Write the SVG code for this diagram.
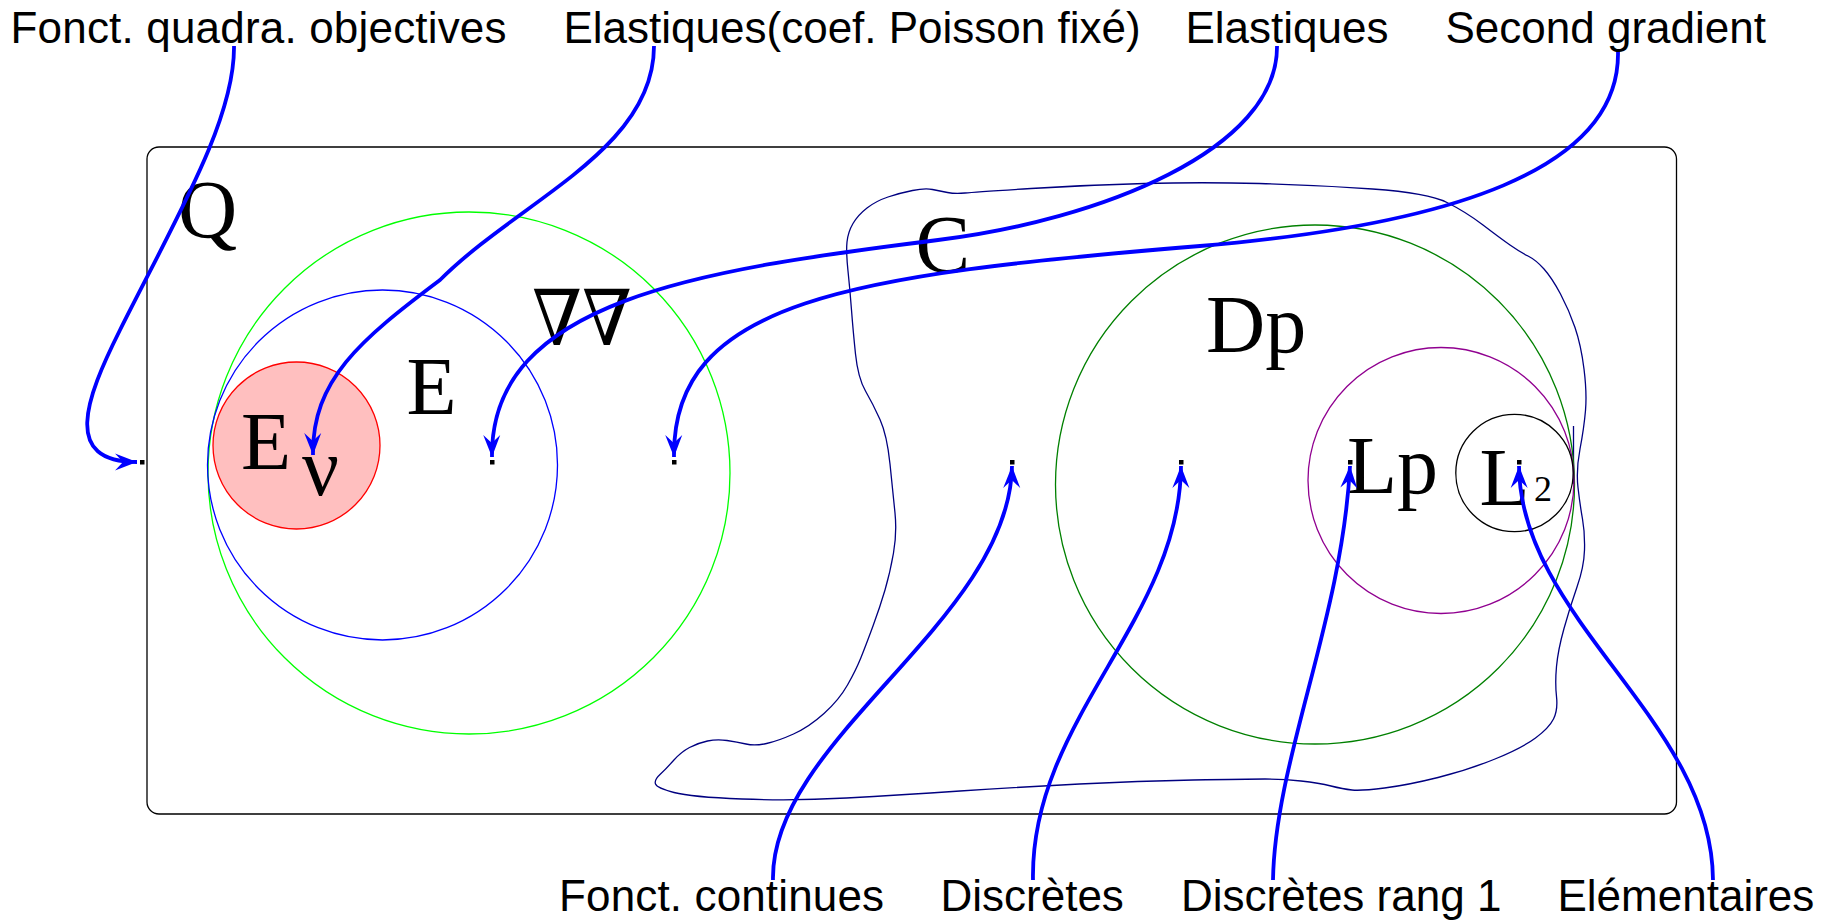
<svg xmlns="http://www.w3.org/2000/svg" width="1838" height="922" viewBox="0 0 1838 922">
  <style>
    .lbl { font-family: "Liberation Sans", Arial, Helvetica, sans-serif; font-size: 44px; fill: #000; }
    .sym { font-family: "Liberation Serif", "Times New Roman", serif; font-size: 82px; fill: #000; }
    .thin { fill: none; stroke-width: 1.3; }
    .arrow { fill: none; stroke: #0000ff; stroke-width: 3.8; marker-end: url(#head); }
    .dot { fill: #000; }
  </style>
  <defs>
    <marker id="head" markerUnits="userSpaceOnUse" markerWidth="26" markerHeight="22" viewBox="-24 -11 26 22" refX="0" refY="0" orient="auto">
      <path d="M0,0 L-22,-8.5 L-14,0 L-22,8.5 Z" fill="#0000ff"/>
    </marker>
  </defs>

  <rect width="1838" height="922" fill="#ffffff"/>

  <!-- outer frame: Q -->
  <g id="node-Q">
    <rect x="147" y="147" width="1529.5" height="667" rx="12" ry="12" fill="none" stroke="#000" stroke-width="1.3"/>
    <text class="sym" x="178" y="237">Q</text>
    <rect class="dot" x="140" y="460" width="4.5" height="4.5"/>
  </g>

  <!-- second gradient set -->
  <g id="node-gradgrad">
    <circle class="thin" cx="469" cy="473" r="261" stroke="#00ff00"/>
    <text x="532" y="345" font-family="DejaVu Serif, serif" font-size="77" textLength="100" lengthAdjust="spacingAndGlyphs">∇∇</text>
    <rect class="dot" x="672" y="460" width="4.5" height="4.5"/>
  </g>

  <!-- elastic set -->
  <g id="node-E">
    <circle class="thin" cx="382.5" cy="465" r="175" stroke="#0000ff"/>
    <text class="sym" x="406.5" y="414">E</text>
    <rect class="dot" x="490" y="460" width="4.5" height="4.5"/>
  </g>

  <!-- elastic, fixed Poisson ratio -->
  <g id="node-Enu">
    <circle cx="296.5" cy="445.5" r="83.5" fill="#ffbfbf" stroke="#ff0000" stroke-width="1.3"/>
    <text class="sym" x="241" y="469">E</text>
    <text class="sym" x="302" y="495" font-size="96">ν</text>
  </g>

  <!-- continuous functions -->
  <g id="node-C">
    <path class="thin" stroke="#000080" d="M 847,242 Q 848,232 853,223.5 Q 858,215 867,208 Q 876,201 888,197 Q 900,193 912.5,190.5 Q 925,188 932.5,189.5 Q 940,191 947.5,192.5 Q 955,194 965,193 Q 975,192 1031,188.5 Q 1087,185 1144.5,183.5 Q 1202,182 1259.5,183.5 Q 1317,185 1372.5,189 Q 1428,193 1447,202.5 Q 1466,212 1483,225 Q 1500,238 1510,245 Q 1520,252 1528,256 Q 1536,260 1544,269 Q 1552,278 1560.5,294 Q 1569,310 1575,327.5 Q 1581,345 1584,369 Q 1587,393 1585.5,410.5 Q 1584,428 1580,449 Q 1576,470 1578,487.5 Q 1580,505 1582.5,519 Q 1585,533 1584.5,550 Q 1584,567 1577,587 Q 1570,607 1564,628.5 Q 1558,650 1556.5,666.5 Q 1555,683 1556.5,696.5 Q 1558,710 1553.5,719 Q 1549,728 1535.5,738 Q 1522,748 1495,759 Q 1468,770 1438,777.5 Q 1408,785 1384.5,788 Q 1361,791 1352,790 Q 1343,789 1331,786 Q 1319,783 1301,781 Q 1283,779 1265,779 Q 1247,779 1193,780 Q 1139,781 1079.5,784 Q 1020,787 960,791 Q 900,795 846.5,798 Q 793,801 742,799 Q 691,797 674,792.5 Q 657,788 655.5,784 Q 654,780 660,774.5 Q 666,769 673.5,760.5 Q 681,752 689.5,747.5 Q 698,743 707.5,741 Q 717,739 727,740.5 Q 737,742 746,744 Q 755,746 766.5,743.5 Q 778,741 793.5,734 Q 809,727 824,713.5 Q 839,700 847.5,685 Q 856,670 861,657.5 Q 866,645 873,626 Q 880,607 885,590 Q 890,573 893.5,553 Q 897,533 895,513 Q 893,493 890,464 Q 887,435 880,419.5 Q 873,404 865.5,391 Q 858,378 855.5,354 Q 853,330 851.5,310 Q 850,290 848,271 Q 846,252 847,242 Z"/>
    <path class="thin" stroke="#000080" d="M 1573.5,426 L 1573.5,484"/>
    <text class="sym" x="915.5" y="272">C</text>
    <rect class="dot" x="1010" y="460" width="4.5" height="4.5"/>
  </g>

  <!-- discrete -->
  <g id="node-Dp">
    <circle class="thin" cx="1315" cy="484.5" r="259.5" stroke="#008000"/>
    <text class="sym" x="1206" y="351.5">Dp</text>
    <rect class="dot" x="1179" y="460" width="4.5" height="4.5"/>
  </g>

  <!-- discrete rank one -->
  <g id="node-Lp">
    <circle class="thin" cx="1441" cy="480.5" r="133" stroke="#900090"/>
    <text class="sym" x="1347" y="493">Lp</text>
    <rect class="dot" x="1348" y="460" width="4.5" height="4.5"/>
  </g>

  <!-- elementary -->
  <g id="node-L2">
    <circle class="thin" cx="1514.5" cy="473" r="58.7" stroke="#000"/>
    <text class="sym" x="1479.5" y="505">L</text>
    <text x="1534" y="501" font-family="Liberation Serif, 'Times New Roman', serif" font-size="36">2</text>
    <rect class="dot" x="1517" y="460" width="4.5" height="4.5"/>
  </g>

  <!-- labels -->
  <g id="labels">
    <text class="lbl" x="10.5" y="42.5" textLength="496">Fonct. quadra. objectives</text>
    <text class="lbl" x="563.5" y="42.5">Elastiques(coef. Poisson fixé)</text>
    <text class="lbl" x="1185.5" y="42.5">Elastiques</text>
    <text class="lbl" x="1445.5" y="42.5">Second gradient</text>
    <text class="lbl" x="559" y="911" textLength="325">Fonct. continues</text>
    <text class="lbl" x="940.5" y="911">Discrètes</text>
    <text class="lbl" x="1181" y="911">Discrètes rang 1</text>
    <text class="lbl" x="1557.5" y="911">Elémentaires</text>
  </g>

  <!-- connectors -->
  <g id="connectors">
    <path class="arrow" d="M 234 46 C 235 120, 175 220, 120 330 C 85 400, 62 462, 137 462"/>
    <path class="arrow" d="M 654 46 C 654 150, 520 200, 440 280 C 360 340, 312 380, 313 455"/>
    <path class="arrow" d="M 1277 46 C 1278 150, 1100 220, 938 240 C 700 270, 490 300, 492 457"/>
    <path class="arrow" d="M 1618 52 C 1620 170, 1450 225, 1200 246 C 850 275, 672 300, 674 457"/>
    <path class="arrow" d="M 773 880 C 770 740, 1010 620, 1012 466"/>
    <path class="arrow" d="M 1033 880 C 1030 720, 1180 620, 1181 466"/>
    <path class="arrow" d="M 1273 880 C 1275 760, 1342 620, 1350 466"/>
    <path class="arrow" d="M 1713 880 C 1712 720, 1520 620, 1519 466"/>
  </g>
</svg>
